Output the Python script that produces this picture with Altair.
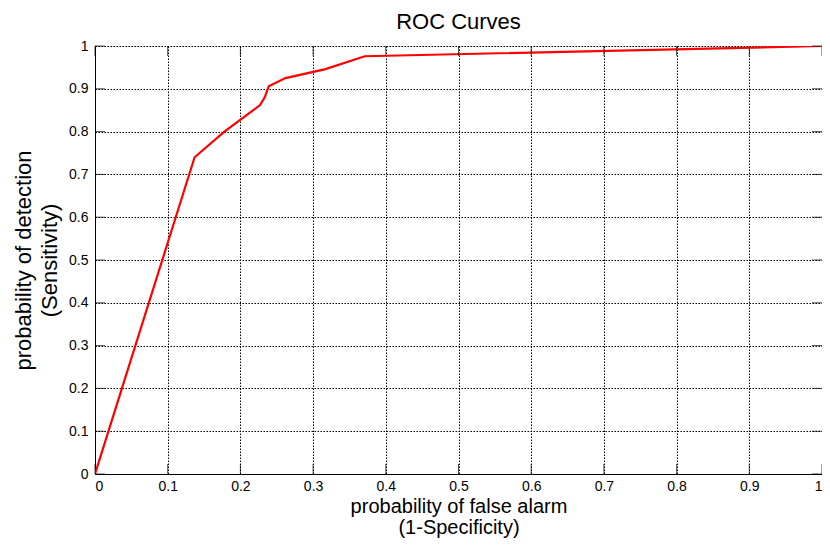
import altair as alt
import pandas as pd

# ROC curve points
fpr = [0, 0.137, 0.178, 0.227, 0.2335, 0.239, 0.262, 0.317, 0.371, 1.0]
tpr = [0, 0.74, 0.80, 0.862, 0.880, 0.906, 0.925, 0.946, 0.976, 1.0]
tick_vals = [0, 0.1, 0.2, 0.3, 0.4, 0.5, 0.6, 0.7, 0.8, 0.9, 1]

df = pd.DataFrame({"fpr": fpr, "tpr": tpr, "order": list(range(len(fpr)))})
ticks = pd.DataFrame({"v": tick_vals})

FONT = "Liberation Sans"

xscale = alt.Scale(domain=[0, 1], nice=False, zero=False)
yscale = alt.Scale(domain=[0, 1], nice=False, zero=False)

base_axis = dict(
    values=tick_vals,
    format=".1~f",
    grid=True,
    gridColor="#000000",
    gridDash=[1.5, 1.5],
    gridOpacity=1,
    gridWidth=1,
    domainColor="#000000",
    domainWidth=1,
    tickSize=0,
    labelFont=FONT,
    labelFontSize=14,
    labelColor="#000000",
    titleFont=FONT,
    titleFontWeight="normal",
    titleColor="#000000",
)

line = alt.Chart(df).mark_line(color="#ff0000", strokeWidth=2.2, clip=True).encode(
    x=alt.X("fpr:Q", scale=xscale,
            axis=alt.Axis(title=["probability of false alarm", "(1-Specificity)"],
                          labelPadding=5, titlePadding=3, titleFontSize=20,
                          titleLineHeight=21, **base_axis)),
    y=alt.Y("tpr:Q", scale=yscale,
            axis=alt.Axis(title=["probability of detection", "(Sensitivity)"],
                          labelPadding=7, titlePadding=7, titleFontSize=22,
                          titleLineHeight=26, **base_axis)),
    order="order:O",
)

# inward tick marks on all four sides
bottom_ticks = alt.Chart(ticks).mark_tick(orient="vertical", size=10, thickness=1,
                                          color="#000000", yOffset=-5).encode(
    x=alt.X("v:Q", scale=xscale), y=alt.Y(datum=0, scale=yscale))
top_ticks = alt.Chart(ticks).mark_tick(orient="vertical", size=10, thickness=1,
                                       color="#000000", yOffset=5).encode(
    x=alt.X("v:Q", scale=xscale), y=alt.Y(datum=1, scale=yscale))
left_ticks = alt.Chart(ticks).mark_tick(orient="horizontal", size=10, thickness=1,
                                        color="#000000", xOffset=5).encode(
    y=alt.Y("v:Q", scale=yscale), x=alt.X(datum=0, scale=xscale))
right_ticks = alt.Chart(ticks).mark_tick(orient="horizontal", size=10, thickness=1,
                                         color="#000000", xOffset=-5).encode(
    y=alt.Y("v:Q", scale=yscale), x=alt.X(datum=1, scale=xscale))

chart = alt.layer(line, bottom_ticks, top_ticks, left_ticks, right_ticks).properties(
    width=727,
    height=428,
    autosize="none",
    padding={"left": 87, "top": 38, "right": 0, "bottom": 64},
    title=alt.TitleParams("ROC Curves", font=FONT, fontSize=22, fontWeight="normal",
                          color="#000000", anchor="middle", offset=5),
).configure_view(stroke=None).configure(background="white")

chart.save("out.html", embed_options={"renderer": "svg", "actions": False})
